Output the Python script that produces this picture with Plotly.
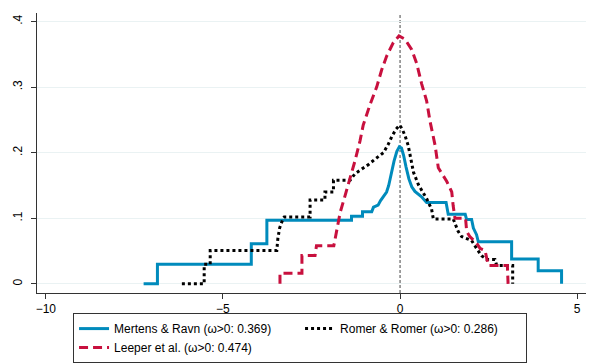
import plotly.graph_objects as go

# Mertens & Ravn
mr_x = [-7.24, -6.85, -6.85, -4.20, -4.20, -3.76, -3.76, -1.37, -1.37, -1.06, -1.06, -0.80,
        -0.75, -0.62, -0.55, -0.45, -0.38, -0.32, -0.25, -0.17, -0.09, -0.02, 0.04, 0.10,
        0.17, 0.25, 0.33, 0.42, 0.60, 0.75, 1.30, 1.36, 1.84, 1.88, 2.02, 2.07, 2.16, 2.21,
        3.15, 3.15, 3.90, 3.90, 4.56, 4.56]
mr_y = [0, 0, 0.030, 0.030, 0.061, 0.061, 0.097, 0.097, 0.103, 0.103, 0.110, 0.110,
        0.117, 0.120, 0.127, 0.135, 0.140, 0.150, 0.168, 0.187, 0.202, 0.209, 0.207, 0.196,
        0.178, 0.160, 0.148, 0.141, 0.133, 0.124, 0.124, 0.106, 0.106, 0.098, 0.098, 0.085, 0.075, 0.064,
        0.064, 0.038, 0.038, 0.020, 0.020, 0]

# Romer & Romer
rr_x = [-6.16, -5.53, -5.53, -5.36, -5.36, -3.48, -3.45, -3.40, -3.30, -3.27, -2.54, -2.54,
        -2.12, -2.12, -1.88, -1.88, -1.41, -1.27, -1.08, -0.89, -0.66, -0.47, -0.34, -0.23,
        -0.11, -0.01, 0.06, 0.14, 0.23, 0.31, 0.38, 0.52, 0.75, 0.89, 0.94, 1.50, 1.64, 1.74,
        2.02, 2.16, 2.30, 2.45, 2.68, 2.73, 3.18, 3.18]
rr_y = [0, 0, 0.030, 0.030, 0.051, 0.051, 0.069, 0.085, 0.100, 0.102, 0.102, 0.128,
        0.128, 0.140, 0.140, 0.158, 0.158, 0.168, 0.175, 0.182, 0.192, 0.200, 0.212, 0.225,
        0.236, 0.242, 0.236, 0.226, 0.211, 0.190, 0.170, 0.151, 0.130, 0.114, 0.099, 0.099, 0.080, 0.072,
        0.066, 0.054, 0.043, 0.037, 0.037, 0.028, 0.028, 0]

# Leeper et al.
le_x = [-3.39, -3.39, -2.77, -2.77, -2.40, -2.36, -1.87, -1.82, -1.75, -1.69, -1.55, -1.41,
        -1.27, -1.13, -1.04, -0.85, -0.66, -0.52, -0.38, -0.19, -0.03, 0.14, 0.33, 0.47,
        0.61, 0.75, 0.85, 0.99, 1.08, 1.32, 1.46, 1.50, 1.55, 1.85, 1.88, 1.97, 2.16, 2.26,
        2.40, 2.49, 3.03, 3.05]
le_y = [0, 0.016, 0.016, 0.043, 0.043, 0.058, 0.058, 0.072, 0.093, 0.109, 0.135, 0.161,
        0.188, 0.218, 0.242, 0.273, 0.300, 0.326, 0.347, 0.368, 0.378, 0.373, 0.357, 0.336,
        0.305, 0.279, 0.247, 0.211, 0.177, 0.156, 0.140, 0.119, 0.100, 0.100, 0.080, 0.072, 0.062, 0.054,
        0.051, 0.028, 0.028, 0]

names = ["Mertens & Ravn (ω>0: 0.369)", "Romer & Romer (ω>0: 0.286)", "Leeper et al. (ω>0: 0.474)"]

y_ticks = [0, 0.1, 0.2, 0.3, 0.4]
y_labels = ["0", ".1", ".2", ".3", ".4"]
x_ticks = [-10, -5, 0, 5]

fig = go.Figure()
fig.add_trace(go.Scatter(x=mr_x, y=mr_y, mode="lines", name=names[0],
                         line=dict(color="#008BBC", width=3)))
fig.add_trace(go.Scatter(x=rr_x, y=rr_y, mode="lines", name=names[1],
                         line=dict(color="black", width=3, dash="3px,3px")))
fig.add_trace(go.Scatter(x=le_x, y=le_y, mode="lines", name=names[2],
                         line=dict(color="#C8103E", width=3, dash="9px,5px")))

fig.add_shape(type="line", x0=0, x1=0, y0=0, y1=1, yref="paper",
              line=dict(color="#444444", width=1, dash="3px,2px"), layer="below")

# page body has an 8px margin, so the figure is sized to fit the window
fig.update_layout(
    width=590, height=356,
    margin=dict(l=29, r=12, t=5, b=71),
    paper_bgcolor="white", plot_bgcolor="white",
    font=dict(family="Liberation Sans, Arial, sans-serif", size=12, color="black"),
    legend=dict(orientation="h", xref="container", yref="container",
                x=0.495, xanchor="center", y=0.143, yanchor="top",
                bordercolor="#333333", borderwidth=1, bgcolor="white",
                entrywidth=181, font=dict(size=12), tracegroupgap=0),
    xaxis=dict(range=[-10.25, 5.25], tickvals=x_ticks, showgrid=False, zeroline=False,
               showline=True, linecolor="#333333", linewidth=1, automargin=False,
               ticks="outside", ticklen=5, tickcolor="#333333"),
    yaxis=dict(range=[-0.014, 0.413], tickvals=y_ticks, ticktext=y_labels, tickangle=-90,
               showgrid=True, gridcolor="#EAF2F3", gridwidth=1, zeroline=False,
               showline=True, linecolor="#333333", linewidth=1, automargin=False,
               ticks="outside", ticklen=5, tickcolor="#333333", ticklabelstandoff=4),
)

fig.write_html("out.html")
